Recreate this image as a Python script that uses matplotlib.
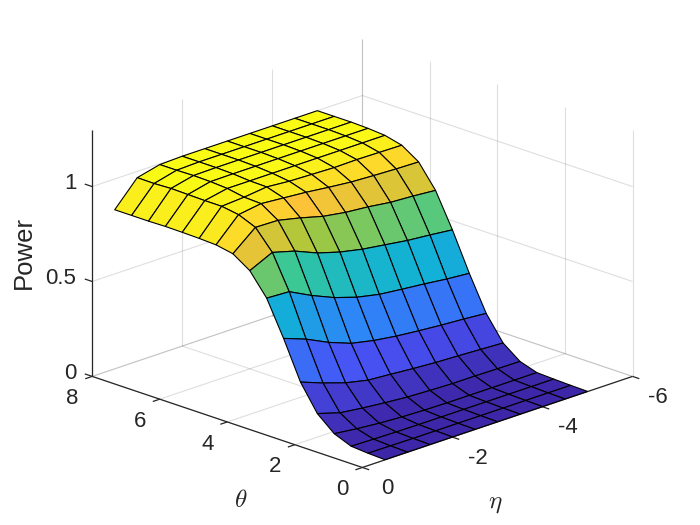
import numpy as np
import matplotlib
matplotlib.use("Agg")
import matplotlib.pyplot as plt
from matplotlib.colors import LinearSegmentedColormap

plt.rcParams['font.family'] = ['Liberation Sans', 'DejaVu Sans']
plt.rcParams['mathtext.fontset'] = 'cm'

theta = [0, 0.5, 1, 1.5, 2, 2.5, 3, 3.5, 4, 4.5, 5, 5.5, 6, 6.5, 7, 7.5, 8]
eta = [-5, -4.5, -4, -3.5, -3, -2.5, -2, -1.5, -1, -0.5]

# power, one row per theta, columns in the order of eta
power = [
    [0.001, 0.001, 0.001, 0.001, 0.001, 0.001, 0.001, 0.001, 0.001, 0.001],
    [0.003, 0.003, 0.003, 0.003, 0.003, 0.003, 0.003, 0.003, 0.004, 0.005],
    [0.006, 0.006, 0.006, 0.006, 0.006, 0.006, 0.006, 0.007, 0.009, 0.012],
    [0.010, 0.010, 0.010, 0.010, 0.010, 0.012, 0.016, 0.023, 0.034, 0.048],
    [0.039, 0.040, 0.042, 0.042, 0.046, 0.051, 0.061, 0.073, 0.088, 0.124],
    [0.106, 0.112, 0.118, 0.123, 0.131, 0.141, 0.150, 0.176, 0.215, 0.260],
    [0.232, 0.242, 0.250, 0.260, 0.272, 0.289, 0.314, 0.359, 0.416, 0.460],
    [0.413, 0.423, 0.437, 0.449, 0.462, 0.487, 0.525, 0.576, 0.636, 0.642],
    [0.612, 0.625, 0.636, 0.653, 0.670, 0.695, 0.730, 0.780, 0.813, 0.757],
    [0.790, 0.800, 0.807, 0.823, 0.834, 0.853, 0.885, 0.912, 0.915, 0.816],
    [0.910, 0.913, 0.918, 0.924, 0.936, 0.950, 0.960, 0.970, 0.952, 0.833],
    [0.968, 0.970, 0.972, 0.970, 0.974, 0.978, 0.988, 0.974, 0.966, 0.837],
    [0.990, 0.990, 0.990, 0.990, 0.990, 0.990, 0.990, 0.990, 0.966, 0.839],
    [0.997, 0.997, 0.997, 0.997, 0.997, 0.997, 0.997, 0.996, 0.968, 0.840],
    [1.000, 1.000, 1.000, 1.000, 1.000, 1.000, 1.000, 0.998, 0.970, 0.838],
    [1.000, 1.000, 1.000, 1.000, 1.000, 1.000, 1.000, 0.996, 0.966, 0.838],
    [1.000, 1.000, 1.000, 1.000, 1.000, 1.000, 1.000, 0.996, 0.967, 0.838],
]

theta_ticks = [0, 2, 4, 6, 8]
eta_ticks = [0, -2, -4, -6]
power_ticks = [0, 0.5, 1]
power_tick_labels = ['0', '0.5', '1']

parula = LinearSegmentedColormap.from_list("parula", [
    (0.2422, 0.1504, 0.6603), (0.2810, 0.3228, 0.9578), (0.1786, 0.5289, 0.9682),
    (0.0689, 0.6948, 0.8394), (0.2161, 0.7843, 0.5923), (0.6720, 0.7793, 0.2227),
    (0.9970, 0.7659, 0.2199), (0.9769, 0.9839, 0.0805)])

TEXT = '#262626'
THETA_MAX, ETA_MIN, Z_MAX = 8, -6, 1.3

fig = plt.figure(figsize=(7, 5.25), dpi=100)
ax = fig.add_axes([63 / 700, -27.4 / 525, 583 / 700, 583 / 525], projection='3d',
                  proj_type='ortho', computed_zorder=False)
ax.view_init(elev=19.7, azim=135)
ax.set_box_aspect((1, 1, 0.686))
ax.set_xlim(0, THETA_MAX)
ax.set_ylim(ETA_MIN, 0)
ax.set_zlim(0, Z_MAX)
ax.set_axis_off()


def line(xs, ys, zs, color=TEXT, alpha=0.15, lw=0.8, zorder=1):
    ax.plot(xs, ys, zs, color=color, alpha=alpha, lw=lw, zorder=zorder, solid_capstyle='butt')


# grid on the floor and the two back walls
for t in theta_ticks:
    line([t, t], [0, ETA_MIN], [0, 0])
    line([t, t], [ETA_MIN, ETA_MIN], [0, Z_MAX])
for e in eta_ticks:
    line([0, THETA_MAX], [e, e], [0, 0])
    line([THETA_MAX, THETA_MAX], [e, e], [0, Z_MAX])
for z in power_ticks:
    line([0, THETA_MAX], [ETA_MIN, ETA_MIN], [z, z])
    line([THETA_MAX, THETA_MAX], [0, ETA_MIN], [z, z])

# axis lines and ticks
line([0, THETA_MAX], [0, 0], [0, 0], alpha=1, lw=0.9, zorder=1.5)
line([0, 0], [0, ETA_MIN], [0, 0], alpha=1, lw=0.9, zorder=1.5)
line([THETA_MAX, THETA_MAX], [0, 0], [0, Z_MAX], alpha=1, lw=0.9, zorder=1.5)
for t in theta_ticks:
    line([t, t], [0, 0.155], [0, 0], alpha=1, lw=0.9, zorder=1.5)
    ax.text(t, 0.444, -0.081, str(t), fontsize=16, color=TEXT, ha='center', va='center')
for e in eta_ticks:
    line([0, -0.2], [e, e], [0, 0], alpha=1, lw=0.9, zorder=1.5)
    ax.text(-0.74, e, -0.067, str(e), fontsize=16, color=TEXT, ha='center', va='center')
for z, lab in zip(power_ticks, power_tick_labels):
    line([THETA_MAX, THETA_MAX + 0.22], [0, 0], [z, z], alpha=1, lw=0.9, zorder=1.5)
    ax.text(THETA_MAX + 0.2365, 0.177, z + 0.015, lab, fontsize=16, color=TEXT, ha='right', va='center')

# surface, flat colour from the first corner of each cell
T, E = np.meshgrid(theta, eta, indexing='ij')
P = np.array(power)
colors = parula((P - P.min()) / (P.max() - P.min()))
ax.plot_surface(T, E, P, rstride=1, cstride=1, facecolors=colors, edgecolor='black',
                linewidth=0.8, shade=False, antialiased=True, zorder=2)

fig.text(241 / 700, 1 - 500 / 525, r'$\theta$', fontsize=18, color=TEXT, ha='center', va='center')
fig.text(495 / 700, 1 - 503 / 525, r'$\eta$', fontsize=18, color=TEXT, ha='center', va='center')
fig.text(24 / 700, 1 - 253 / 525, 'Power', fontsize=18.5, color=TEXT, rotation=90, ha='center', va='center')

fig.savefig('out.png', dpi=100)
plt.close(fig)
